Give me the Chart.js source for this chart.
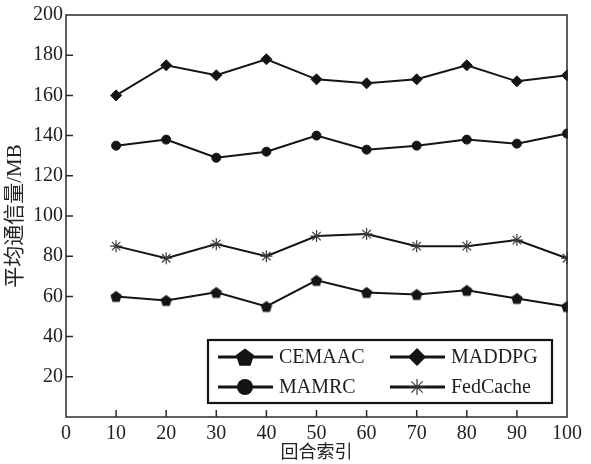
<!DOCTYPE html>
<html>
<head>
<meta charset="utf-8">
<script src="https://cdn.jsdelivr.net/npm/chart.js@4.4.0/dist/chart.umd.min.js"></script>
<style>
    html, body { margin: 0; padding: 0; background: #fff; }
    #wrap { width: 591px; height: 464px; }
</style>
</head>
<body>
<div id="wrap"><canvas id="chart" width="591" height="464"></canvas></div>
<script>
    // ===== Data =====
    const rounds = [10, 20, 30, 40, 50, 60, 70, 80, 90, 100];
    const cemaac = [60, 58, 62, 55, 68, 62, 61, 63, 59, 55];
    const maddpg = [160, 175, 170, 178, 168, 166, 168, 175, 167, 170];
    const mamrc = [135, 138, 129, 132, 140, 133, 135, 138, 136, 141];
    const fedcache = [85, 79, 86, 80, 90, 91, 85, 85, 88, 79];
    const xTicks = [0, 10, 20, 30, 40, 50, 60, 70, 80, 90, 100];
    const yTicks = [20, 40, 60, 80, 100, 120, 140, 160, 180, 200];

    const INK = '#141414';
    const SERIF = "'Liberation Serif', 'Times New Roman', 'Noto Sans CJK SC', serif";

    const pts = (arr) => arr.map((v, i) => ({ x: rounds[i], y: v }));

    function pentagonPath(ctx, x, y, r) {
        ctx.beginPath();
        for (let i = 0; i < 5; i++) {
            const a = -Math.PI / 2 + i * 2 * Math.PI / 5;
            const px = x + r * Math.cos(a), py = y + r * Math.sin(a);
            if (i === 0) ctx.moveTo(px, py); else ctx.lineTo(px, py);
        }
        ctx.closePath();
    }

    function pentagonImage(r) {
        const c = document.createElement('canvas');
        const s = Math.ceil(r * 2 + 2);
        c.width = s; c.height = s;
        const g = c.getContext('2d');
        pentagonPath(g, s / 2, s / 2 + r * 0.1, r);
        g.fillStyle = INK;
        g.fill();
        return c;
    }

    const series = [
        { label: 'CEMAAC', data: cemaac, style: pentagonImage(6), r: 6, kind: 'pent' },
        { label: 'MADDPG', data: maddpg, style: 'rectRot', r: 5.5, kind: 'rectRot' },
        { label: 'MAMRC', data: mamrc, style: 'circle', r: 4.5, kind: 'circle' },
        { label: 'FedCache', data: fedcache, style: 'star', r: 6, kind: 'star' }
    ];

    // ===== Plugins =====
    const framePlugin = {
        id: 'frame',
        afterDatasetsDraw(chart) {
            const { ctx, chartArea: a, scales: { x, y } } = chart;
            ctx.save();
            ctx.strokeStyle = '#2a2a2a';
            ctx.lineWidth = 1.5;
            ctx.strokeRect(a.left, a.top, a.right - a.left, a.bottom - a.top);
            ctx.beginPath();
            xTicks.filter(v => v > 0 && v < 100).forEach(v => {
                const px = x.getPixelForValue(v);
                ctx.moveTo(px, a.bottom); ctx.lineTo(px, a.bottom - 7);
            });
            yTicks.filter(v => v < 200).forEach(v => {
                const py = y.getPixelForValue(v);
                ctx.moveTo(a.left, py); ctx.lineTo(a.left + 7, py);
            });
            ctx.stroke();
            ctx.restore();
        }
    };

    function drawMarker(ctx, kind, cx, cy, r) {
        ctx.fillStyle = INK;
        ctx.strokeStyle = INK;
        if (kind === 'pent') {
            pentagonPath(ctx, cx, cy + r * 0.1, r);
            ctx.fill();
        } else if (kind === 'circle') {
            ctx.beginPath(); ctx.arc(cx, cy, r, 0, Math.PI * 2); ctx.fill();
        } else if (kind === 'rectRot') {
            ctx.beginPath();
            ctx.moveTo(cx - r, cy); ctx.lineTo(cx, cy - r);
            ctx.lineTo(cx + r, cy); ctx.lineTo(cx, cy + r);
            ctx.closePath(); ctx.fill();
        } else {
            ctx.lineWidth = 1.2;
            ctx.strokeStyle = '#3a3a3a';
            ctx.beginPath();
            for (let i = 0; i < 4; i++) {
                const ang = i * Math.PI / 4;
                ctx.moveTo(cx - r * Math.cos(ang), cy - r * Math.sin(ang));
                ctx.lineTo(cx + r * Math.cos(ang), cy + r * Math.sin(ang));
            }
            ctx.stroke();
        }
    }

    const legendBoxPlugin = {
        id: 'legendBox',
        afterDraw(chart) {
            const { ctx, chartArea: a } = chart;
            const w = 344, h = 63;
            const bx = a.right - 15 - w, by = a.bottom - 14 - h;
            ctx.save();
            ctx.fillStyle = '#fff';
            ctx.fillRect(bx, by, w, h);
            ctx.strokeStyle = INK;
            ctx.lineWidth = 2.2;
            ctx.strokeRect(bx, by, w, h);
            ctx.font = '20px ' + SERIF;
            ctx.textBaseline = 'middle';
            const colX = [bx + 10, bx + 182];
            const rowY = [by + 17, by + 47];
            const bigR = { pent: 9.5, rectRot: 9, circle: 8, star: 8 };
            series.forEach((s, i) => {
                const lx = colX[i % 2], ly = rowY[Math.floor(i / 2)];
                ctx.strokeStyle = INK;
                ctx.lineWidth = 3;
                ctx.beginPath(); ctx.moveTo(lx, ly); ctx.lineTo(lx + 55, ly); ctx.stroke();
                drawMarker(ctx, s.kind, lx + 27, ly, bigR[s.kind]);
                ctx.fillStyle = '#1e1e1e';
                ctx.fillText(s.label, lx + 61, ly + 1);
            });
            ctx.restore();
        }
    };

    // ===== Chart =====
    new Chart(document.getElementById('chart'), {
        type: 'line',
        data: {
            datasets: series.map(s => ({
                label: s.label,
                data: pts(s.data),
                borderColor: INK,
                backgroundColor: s.kind === 'star' ? '#3a3a3a' : INK,
                pointBorderColor: s.kind === 'star' ? '#3a3a3a' : INK,
                borderWidth: 2,
                pointStyle: s.style,
                pointRadius: s.r,
                pointBorderWidth: s.kind === 'star' ? 1.2 : 1,
                tension: 0,
                clip: 1
            }))
        },
        options: {
            responsive: false,
            animation: false,
            devicePixelRatio: 1,
            layout: { padding: { top: 15, right: 24, left: 0, bottom: 0 } },
            plugins: { legend: { display: false }, tooltip: { enabled: false } },
            scales: {
                x: {
                    type: 'linear', min: 0, max: 100,
                    afterFit: (s) => { s.height = 47; },
                    afterBuildTicks: (s) => { s.ticks = xTicks.map(v => ({ value: v })); },
                    grid: { display: false, drawTicks: false },
                    border: { display: false },
                    ticks: { color: '#222', padding: 5, font: { family: SERIF, size: 20 } },
                    title: {
                        display: true, text: '回合索引', color: '#222',
                        font: { family: SERIF, size: 18 }, padding: { top: 0, bottom: 0 }
                    }
                },
                y: {
                    min: 0, max: 200,
                    afterFit: (s) => { s.width = 66; },
                    afterBuildTicks: (s) => { s.ticks = yTicks.map(v => ({ value: v })); },
                    grid: { display: false, drawTicks: false },
                    border: { display: false },
                    ticks: { color: '#222', padding: 3, font: { family: SERIF, size: 20 } },
                    title: {
                        display: true, text: '平均通信量/MB', color: '#222',
                        font: { family: SERIF, size: 21 }, padding: { top: 3, bottom: 0 }
                    }
                }
            }
        },
        plugins: [framePlugin, legendBoxPlugin]
    });
</script>
</body>
</html>
